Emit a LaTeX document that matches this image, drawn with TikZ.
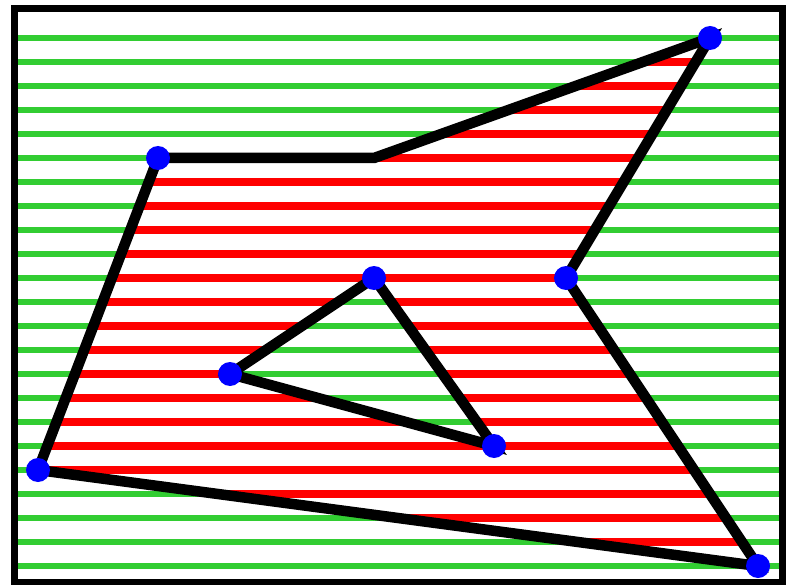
\documentclass[tikz,border=0pt]{standalone}
\usepackage{xcolor}
\usepackage{tikz}
\usetikzlibrary{
  calc
}
\definecolor{scGreen}{HTML}{32CD32}
\definecolor{scRed}{HTML}{FF0000}
\definecolor{scBlue}{HTML}{0000FF}
\tikzset{
  frame/.style={draw=black, line width=7pt},
  scanline/.style={draw=scGreen, line width=5.5pt},
  fillspan/.style={draw=scRed, line width=8pt},
  edge/.style={draw=black, line width=10.5pt},
  vdot/.style={circle, fill=scBlue, inner sep=0pt, minimum size=24pt}
}
\begin{document}
\begin{tikzpicture}[x=1pt, y=-1pt]
  \useasboundingbox (0,0) rectangle (786,585);
  % vertices of the outer polygon
  \coordinate (pa) at (158,158);
  \coordinate (pb) at (374,158);
  \coordinate (pc) at (710,38);
  \coordinate (pd) at (566,278);
  \coordinate (pe) at (758,566);
  \coordinate (pf) at (38,470);
  % vertices of the hole
  \coordinate (ha) at (374,278);
  \coordinate (hb) at (230,374);
  \coordinate (hc) at (494,446);
  % scan lines
  \foreach \k in {0,...,22}
    \draw[scanline] (14.5,38+24*\k) -- (782.5,38+24*\k);
  % spans inside the polygon
  \begin{scope}[even odd rule]
    \clip (pa) -- (pb) -- (pc) -- (pd) -- (pe) -- (pf) -- cycle
      (ha) -- (hb) -- (hc) -- cycle;
    \foreach \k in {0,...,22}
      \draw[fillspan] (14.5,38+24*\k) -- (782.5,38+24*\k);
  \end{scope}
  % edges
  \draw[edge] (pa) -- (pb) -- (pc) -- (pd) -- (pe) -- (pf) -- cycle;
  \draw[edge] (ha) -- (hb) -- (hc) -- cycle;
  % vertex dots
  \node[vdot] (da) at (pa) {};
  \node[vdot] (dc) at (pc) {};
  \node[vdot] (dd) at (pd) {};
  \node[vdot] (de) at (pe) {};
  \node[vdot] (df) at (pf) {};
  \node[vdot] (dg) at (ha) {};
  \node[vdot] (dh) at (hb) {};
  \node[vdot] (di) at (hc) {};
  \draw[frame] (14.5,8.5) rectangle (782.5,582.5);
\end{tikzpicture}
\end{document}
